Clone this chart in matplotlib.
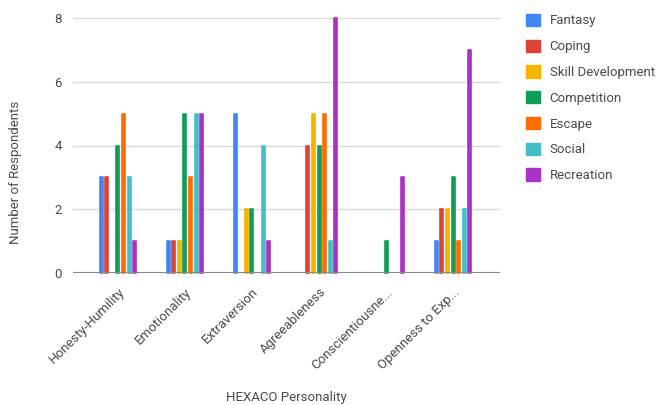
import numpy as np
import matplotlib
matplotlib.use("Agg")
import matplotlib.pyplot as plt
from matplotlib.patches import Patch

plt.rcParams["font.family"] = ["Roboto", "DejaVu Sans"]

categories = ["Honesty-Humility", "Emotionality", "Extraversion", "Agreeableness",
              "Conscientiousne...", "Openness to Exp..."]
series_names = ["Fantasy", "Coping", "Skill Development", "Competition",
                "Escape", "Social", "Recreation"]

fantasy     = [3, 1, 5, 0, 0, 1]
coping      = [3, 1, 0, 4, 0, 2]
skill_dev   = [0, 1, 2, 5, 0, 2]
competition = [4, 5, 2, 4, 1, 3]
escape      = [5, 3, 0, 5, 0, 1]
social      = [3, 5, 4, 1, 0, 2]
recreation  = [1, 5, 1, 8, 3, 7]

COLORS = ["#4285F4", "#DB4437", "#F4B400", "#0F9D58",
          "#FF6D00", "#46BDC6", "#AB30C4"]
TEXT = "#4A4A4A"

values = [fantasy, coping, skill_dev, competition, escape, social, recreation]

fig = plt.figure(figsize=(6.56, 4.05), dpi=100)
ax = fig.add_axes([73 / 656, 1 - 273 / 405, 427 / 656, 255 / 405])

x = np.arange(len(categories))
slot = 0.083
bw = 0.045
for i, (name, vals, col) in enumerate(zip(series_names, values, COLORS)):
    h = ax.bar(x + (i - 3) * slot, vals, width=bw, color=col, edgecolor=col,
               linewidth=1.2, joinstyle="round", zorder=3, clip_on=False)
    # empty bars leave no stub on the baseline
    for p, v in zip(h.patches, vals):
        if v == 0:
            p.set_visible(False)

ax.set_xlim(-0.67, len(categories) - 1 + 0.70)
ax.set_ylim(0, 8)
ax.set_yticks([0, 2, 4, 6, 8])
ax.yaxis.grid(True, color="#DADADA", linewidth=1)
ax.set_axisbelow(True)
ax.axhline(0, color="#888888", linewidth=1.5, zorder=4)
for s in ax.spines.values():
    s.set_visible(False)
ax.tick_params(axis="both", length=0, labelsize=9.5, colors=TEXT)
ax.tick_params(axis="y", pad=8)
ax.set_xticks(x)
ax.set_xticklabels(categories, rotation=45, ha="right", rotation_mode="anchor")
ax.tick_params(axis="x", pad=9)

fig.text(286 / 656, 8 / 405, "HEXACO Personality", ha="center", va="center",
         fontsize=9.5, color=TEXT)
fig.text(16 / 656, 1 - 172 / 405, "Number of Respondents", ha="center",
         va="center", rotation=90, fontsize=9.5, color=TEXT)

handles = [Patch(facecolor=c, edgecolor=c) for c in COLORS]
fig.legend(handles=handles, labels=series_names, loc="upper left",
           bbox_to_anchor=(514 / 656, 1 - 2 / 405), frameon=False,
           fontsize=9.5, labelcolor=TEXT, handlelength=1.05, handleheight=1.05,
           handletextpad=0.75, labelspacing=0.92)

fig.savefig("out.png", dpi=100, facecolor="white")
